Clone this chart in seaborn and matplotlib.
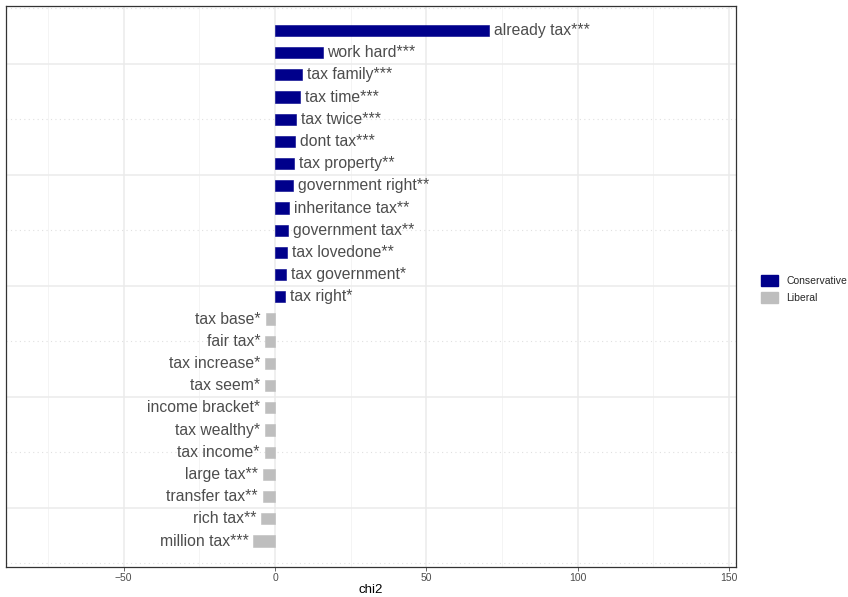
import matplotlib
matplotlib.use("Agg")
import matplotlib.pyplot as plt
import matplotlib.patches as mpatches
import numpy as np
import pandas as pd
import seaborn as sns

# terms ordered top to bottom
terms = [
    "already tax***", "work hard***", "tax family***", "tax time***", "tax twice***",
    "dont tax***", "tax property**", "government right**", "inheritance tax**",
    "government tax**", "tax lovedone**", "tax government*", "tax right*",
    "tax base*", "fair tax*", "tax increase*", "tax seem*", "income bracket*",
    "tax wealthy*", "tax income*", "large tax**", "transfer tax**", "rich tax**",
    "million tax***",
]
chi2 = [
    70.7, 15.7, 8.8, 8.3, 7.0, 6.6, 6.2, 6.0, 4.7, 4.4, 4.0, 3.6, 3.3,
    -3.0, -3.2, -3.2, -3.2, -3.2, -3.2, -3.4, -4.1, -4.1, -4.5, -7.2,
]
side = ["Conservative"] * 13 + ["Liberal"] * 11
palette = {"Conservative": "#00008B", "Liberal": "#BEBEBE"}

df = pd.DataFrame({"term": terms, "chi2": chi2, "side": side})
df["pos"] = np.arange(len(df), 0, -1)

sns.set_theme(style="white")
plt.rcParams["font.family"] = ["Liberation Sans", "DejaVu Sans"]

fig = plt.figure(figsize=(8.48, 5.97), dpi=100)
ax = fig.add_axes([6 / 848, 30 / 597, 730 / 848, 561 / 597])

sns.barplot(
    data=df, x="chi2", y="pos", hue="side", orient="h", native_scale=True,
    palette=palette, saturation=1, width=0.5, dodge=False, legend=False, ax=ax,
    linewidth=0.4,
)
for bar in ax.patches:
    bar.set_edgecolor(bar.get_facecolor())

for _, row in df.iterrows():
    right = row["chi2"] > 0
    ax.annotate(
        row["term"], xy=(row["chi2"], row["pos"]),
        xytext=(3.5 if right else -3.5, 0), textcoords="offset points",
        ha="left" if right else "right", va="center",
        fontsize=11.3, color="#4d4d4d",
    )

ax.set_xlim(-88.9, 152.3)
ax.set_ylim(-0.17, 25.1)
ax.set_xticks([-50, 0, 50, 100, 150])
ax.set_xticks([-75, -25, 25, 75, 125], minor=True)
ax.set_yticks([0, 5, 10, 15, 20, 25])
ax.set_yticks([2.5, 7.5, 12.5, 17.5, 22.5], minor=True)
ax.set_yticklabels([])
ax.tick_params(axis="y", which="both", length=0)
ax.tick_params(axis="x", which="major", length=3, width=0.6, color="#4d4d4d",
               labelsize=7.5, labelcolor="#4d4d4d", pad=1, bottom=True)
ax.tick_params(axis="x", which="minor", length=0)

ax.grid(False)
ax.grid(axis="x", which="major", color="#ebebeb", linewidth=1.1)
ax.grid(axis="x", which="minor", color="#f2f2f2", linewidth=0.6)
ax.grid(axis="y", which="major", color="#e0e0e0", linewidth=0.8, linestyle=(0, (1, 3)))
ax.grid(axis="y", which="minor", color="#ebebeb", linewidth=1.1)
ax.set_axisbelow(True)

for spine in ax.spines.values():
    spine.set_visible(True)
    spine.set_color("#333333")
    spine.set_linewidth(0.9)

ax.set_xlabel("chi2", fontsize=9.5, color="black", labelpad=1)
ax.set_ylabel("")

handles = [mpatches.Patch(facecolor=palette[k], edgecolor=palette[k], label=k)
           for k in ["Conservative", "Liberal"]]
fig.legend(
    handles=handles, loc="center left", bbox_to_anchor=(752 / 848, 1 - 289 / 597),
    frameon=False, fontsize=7.5, handlelength=1.6, handleheight=1.2,
    handletextpad=0.8, labelspacing=0.6,
)

fig.savefig("out.png", dpi=100)
